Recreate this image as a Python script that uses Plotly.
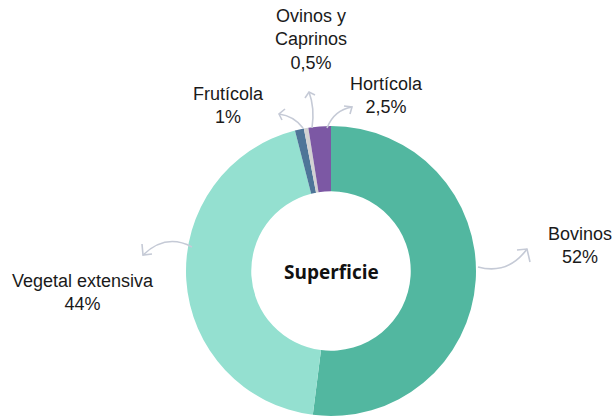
import plotly.graph_objects as go

categories = ["Bovinos", "Vegetal extensiva", "Frutícola", "Ovinos y Caprinos", "Hortícola"]
values = [52, 44, 1, 0.5, 2.5]
value_labels = ["52%", "44%", "1%", "0,5%", "2,5%"]
colors = ["#52B7A0", "#94E0D0", "#4E7598", "#D2D2D2", "#7C58A4"]

W, H = 614, 419

def px(x, y):
    return x / W, 1 - y / H

x0, y0 = px(186, 416)
x1, y1 = px(476, 126)

fig = go.Figure(go.Pie(
    labels=categories, values=values, sort=False, direction="clockwise", rotation=0,
    hole=0.55, marker=dict(colors=colors, line=dict(width=0)),
    textinfo="none", hoverinfo="label+percent", showlegend=False,
    domain=dict(x=[x0, x1], y=[y0, y1]),
))

# label positions (page pixels)
label_pos = {
    "Bovinos": (580, 245, ["Bovinos"]),
    "Vegetal extensiva": (83, 292, ["Vegetal extensiva"]),
    "Frutícola": (228, 105, ["Frutícola"]),
    "Ovinos y Caprinos": (311, 40, ["Ovinos y", "Caprinos"]),
    "Hortícola": (387, 96, ["Hortícola"]),
}
for cat, lab in zip(categories, value_labels):
    x, y, lines = label_pos[cat]
    text = "<br>".join(lines + [lab])
    xp, yp = px(x, y)
    fig.add_annotation(x=xp, y=yp, xref="paper", yref="paper", text=text, showarrow=False,
                       font=dict(family="Liberation Sans, Arial", size=18, color="#1a1a1a"),
                       align="center", xanchor="center", yanchor="middle")

xs, ys = px(331, 272)
fig.add_annotation(x=xs, y=ys, xref="paper", yref="paper", text="<b>Superficie</b>",
                   showarrow=False, font=dict(family="Open Sans", size=19, color="#111111"))

# curved arrows (decorative)
arrow_color = "#C5CAD6"
def path_px(cmds):
    out = []
    for c in cmds:
        if isinstance(c, str):
            out.append(c)
        else:
            xp, yp = px(*c)
            out.append(f"{xp:.5f},{yp:.5f}")
    return " ".join(out)

arrows = [
    # (start, control, tip, head1, head2)
    ((303, 128), (294, 116), (279, 114), (285, 109), (282, 120)),
    ((312, 128), (315, 108), (309, 92), (305, 98), (315, 95)),
    ((327, 128), (334, 110), (352, 107), (344, 106), (350, 114)),
    ((192, 247), (166, 233), (143, 255), (142, 244), (152, 254)),
    ((478, 267), (508, 275), (527, 249), (517, 250), (530, 262)),
]
for s, c, t, h1, h2 in arrows:
    fig.add_shape(type="path", xref="paper", yref="paper",
                  path=path_px(["M", s, "Q", c, t]),
                  line=dict(color=arrow_color, width=1.6))
    fig.add_shape(type="path", xref="paper", yref="paper",
                  path=path_px(["M", h1, "L", t, "L", h2]),
                  line=dict(color=arrow_color, width=1.6))

fig.update_layout(width=W, height=H, margin=dict(l=0, r=0, t=0, b=0),
                  paper_bgcolor="white", plot_bgcolor="white")
fig.write_html("out.html", config={"displayModeBar": False},
               post_script="document.body.style.margin='0';document.body.style.overflow='hidden';")
